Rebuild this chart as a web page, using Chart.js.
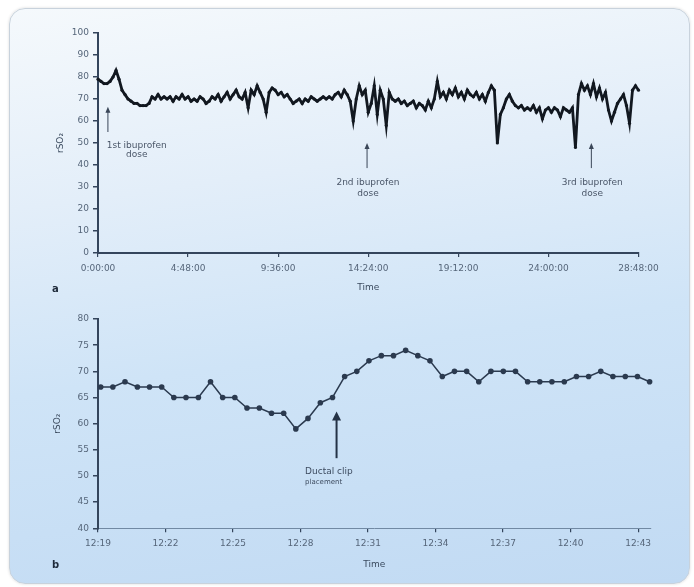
<!DOCTYPE html>
<html>
<head>
<meta charset="utf-8">
<script src="https://cdn.jsdelivr.net/npm/chart.js@4.4.0/dist/chart.umd.min.js"></script>
<style>
  html, body { margin: 0; padding: 0; background: #fff; }
  #wrap { position: relative; width: 694px; height: 587px; overflow: hidden; }
  #card {
    position: absolute; left: 9px; top: 8px; width: 679px; height: 574px;
    border: 1px solid #c8d2dc; border-radius: 16px;
    background: linear-gradient(172deg, #f5f9fc 0%, #e3eef9 30%, #cfe4f7 58%, #c1daf3 100%);
    box-shadow: 0 0 3px rgba(0,0,0,0.15);
  }
  canvas { position: absolute; left: 0; }
  #chartA { top: 0; }
  #chartB { top: 300px; }
  .panel { position: absolute; font: bold 10px 'DejaVu Sans'; color: #1e2a3a; }
</style>
</head>
<body>
<div id="wrap">
  <div id="card"></div>
  <canvas id="chartA" width="694" height="300"></canvas>
  <canvas id="chartB" width="694" height="287"></canvas>
  <div class="panel" style="left:52px;top:283px;">a</div>
  <div class="panel" style="left:52px;top:559px;">b</div>
</div>
<script>
// Panel a: rSO2 over ~29 h, one sample every 9.6 min (x = sample number)
const timeTicksA = ['0:00:00', '4:48:00', '9:36:00', '14:24:00', '19:12:00', '24:00:00', '28:48:00'];
const tickSamplesA = [0, 30, 60, 90, 120, 150, 180];
const yTicksA = [0, 10, 20, 30, 40, 50, 60, 70, 80, 90, 100];
const rso2A = [
  79, 78, 77, 77, 78, 80, 83,
  79, 74, 72, 70, 69, 68, 68, 67, 67, 67, 68,
  71, 70, 72, 70, 71, 70, 71, 69, 71, 70, 72, 70, 71, 69, 70,
  69, 71, 70, 68, 69, 71, 70, 72, 69, 71, 73, 70, 72, 74, 71, 70, 73, 66,
  74, 72, 76, 73, 70, 64, 73, 75, 74, 72,
  73, 71, 72, 70, 68, 69, 70, 68, 70, 69,
  71, 70, 69, 70, 71, 70, 71, 70, 72, 73,
  71, 74, 72, 69, 60, 70, 76, 72, 74, 64,
  68, 76, 63, 74, 70, 58, 73, 70, 69, 70,
  68, 69, 67, 68, 69, 66, 68, 67, 65, 69,
  66, 70, 78, 71, 73, 70, 74, 72, 75, 71,
  73, 70, 74, 72, 71, 73, 70, 72, 69, 73,
  76, 74, 50, 63, 66, 70, 72, 69, 67, 66,
  67, 65, 66, 65, 67, 64, 66, 61, 65, 66,
  64, 66, 65, 62, 66, 65, 64, 66, 48, 72,
  77, 74, 76, 72, 77, 71, 75, 70, 73, 65,
  60, 64, 68, 70, 72, 67, 59, 74, 76, 74
];
const dosesA = [
  { x: 3.3, from: 55, to: 66.5, textX: 12.9, align: 'center', lines: ['1st ibuprofen', 'dose'], textY: [49, 44.5] },
  { x: 89.6, from: 38.6, to: 50, textX: 89.9, align: 'center', lines: ['2nd ibuprofen', 'dose'], textY: [31.8, 26.8] },
  { x: 164.3, from: 38.6, to: 50, textX: 164.6, align: 'center', lines: ['3rd ibuprofen', 'dose'], textY: [31.8, 26.8] }
];

// Panel b: minutes after 12:19
const timeTicksB = ['12:19', '12:22', '12:25', '12:28', '12:31', '12:34', '12:37', '12:40', '12:43'];
const tickMinutesB = [0, 3, 6, 9, 12, 15, 18, 21, 24];
const yTicksB = [40, 45, 50, 55, 60, 65, 70, 75, 80];
const minutesB = [
  0.12, 0.66, 1.20, 1.75, 2.29, 2.83, 3.37, 3.91, 4.46, 5.00,
  5.54, 6.08, 6.62, 7.17, 7.71, 8.25, 8.79, 9.33, 9.88, 10.42,
  10.96, 11.50, 12.04, 12.59, 13.13, 13.67, 14.21, 14.75, 15.30, 15.84,
  16.38, 16.92, 17.46, 18.01, 18.55, 19.09, 19.63, 20.17, 20.72, 21.26,
  21.80, 22.34, 22.88, 23.43, 23.97, 24.51
];
const rso2B = [
  67, 67, 68, 67, 67, 67, 65, 65, 65, 68,
  65, 65, 63, 63, 62, 62, 59, 61, 64, 65,
  69, 70, 72, 73, 73, 74, 73, 72, 69, 70,
  70, 68, 70, 70, 70, 68, 68, 68, 68, 69,
  69, 70, 69, 69, 69, 68
];
const clipB = [
  { x: 10.6, from: 53.4, to: 62.3, textX: 9.2, align: 'left', lines: ['Ductal clip', 'placement'], textY: [50.8, 48.9], sizes: [9, 7] }
];

const axisColor = '#34455c';
const tickColor = '#56667a';
const tickFont = { family: 'DejaVu Sans', size: 9 };

const arrowPlugin = {
  id: 'arrows',
  afterDatasetsDraw(chart, args, opts) {
    const { ctx, scales: { x, y } } = chart;
    ctx.save();
    ctx.strokeStyle = opts.color;
    ctx.fillStyle = opts.color;
    opts.items.forEach(a => {
      const px = x.getPixelForValue(a.x);
      const yFrom = y.getPixelForValue(a.from);
      const yTo = y.getPixelForValue(a.to);
      ctx.lineWidth = opts.lineWidth;
      ctx.beginPath();
      ctx.moveTo(px, yFrom);
      ctx.lineTo(px, yTo + opts.headLen - 1);
      ctx.stroke();
      ctx.beginPath();
      ctx.moveTo(px, yTo);
      ctx.lineTo(px - opts.headW, yTo + opts.headLen);
      ctx.lineTo(px + opts.headW, yTo + opts.headLen);
      ctx.closePath();
      ctx.fill();
      ctx.textAlign = a.align;
      ctx.textBaseline = 'middle';
      a.lines.forEach((t, k) => {
        const size = a.sizes ? a.sizes[k] : 9;
        ctx.font = size + 'px "DejaVu Sans"';
        ctx.fillStyle = opts.textColor;
        ctx.fillText(t, x.getPixelForValue(a.textX), y.getPixelForValue(a.textY[k]));
      });
      ctx.fillStyle = opts.color;
    });
    ctx.restore();
  }
};

function axisY(min, max, ticks, titlePad) {
  return {
    type: 'linear', min: min, max: max,
    afterBuildTicks: s => { s.ticks = ticks.map(v => ({ value: v })); },
    afterFit: s => { s.width = 98; },
    border: { display: true, color: axisColor, width: 2 },
    grid: { drawOnChartArea: false, drawTicks: true, tickLength: 5, color: axisColor, lineWidth: 1.5 },
    ticks: { font: tickFont, color: tickColor, padding: 4 },
    title: { display: true, text: 'rSO\u2082', font: { family: 'DejaVu Sans', size: 9 }, color: '#3a4a5e', padding: { top: titlePad } }
  };
}

function axisX(max, tickVals, labels, height, titlePad, lineColor, lineWidth) {
  return {
    type: 'linear', min: 0, max: max,
    afterBuildTicks: s => { s.ticks = tickVals.map(v => ({ value: v })); },
    afterFit: s => { s.height = height; },
    border: { display: true, color: lineColor, width: lineWidth },
    grid: { drawOnChartArea: false, drawTicks: true, tickLength: 4, color: axisColor, lineWidth: 1.2 },
    ticks: { autoSkip: false, maxRotation: 0, font: tickFont, color: tickColor, padding: 6,
      callback: (v, i) => labels[i] },
    title: { display: true, text: 'Time', font: { family: 'DejaVu Sans', size: 9 }, color: '#3a4a5e', padding: { bottom: titlePad } }
  };
}

new Chart(document.getElementById('chartA'), {
  type: 'line',
  data: {
    datasets: [{
      data: rso2A.map((v, i) => ({ x: i, y: v })),
      borderColor: '#121820',
      backgroundColor: '#121820',
      borderWidth: 2.8,
      pointRadius: 1.6,
      pointBorderWidth: 0,
      tension: 0,
      clip: false
    }]
  },
  options: {
    responsive: false,
    animation: false,
    layout: { padding: { left: 0, right: 55.5, top: 33, bottom: 0 } },
    plugins: {
      legend: { display: false },
      tooltip: { enabled: false },
      arrows: { items: dosesA, color: '#3a4658', textColor: '#4a5668', lineWidth: 1, headLen: 6, headW: 2.5 }
    },
    scales: {
      x: axisX(180, tickSamplesA, timeTicksA, 47, 6.6, axisColor, 2),
      y: axisY(0, 100, yTicksA, 55)
    }
  },
  plugins: [arrowPlugin]
});

new Chart(document.getElementById('chartB'), {
  type: 'line',
  data: {
    datasets: [{
      data: minutesB.map((m, i) => ({ x: m, y: rso2B[i] })),
      borderColor: '#2b3a4f',
      backgroundColor: '#2b3a4f',
      borderWidth: 1.5,
      pointRadius: 2.8,
      pointBorderWidth: 0,
      tension: 0,
      clip: false
    }]
  },
  options: {
    responsive: false,
    animation: false,
    layout: { padding: { left: 0, right: 43.5, top: 19, bottom: 0 } },
    plugins: {
      legend: { display: false },
      tooltip: { enabled: false },
      arrows: { items: clipB, color: '#243246', textColor: '#3e4c60', lineWidth: 2, headLen: 9, headW: 4.5 }
    },
    scales: {
      x: axisX(24.55, tickMinutesB, timeTicksB, 58.7, 16.5, '#7189a3', 1),
      y: axisY(40, 80, yTicksB, 52)
    }
  },
  plugins: [arrowPlugin]
});
</script>
</body>
</html>
